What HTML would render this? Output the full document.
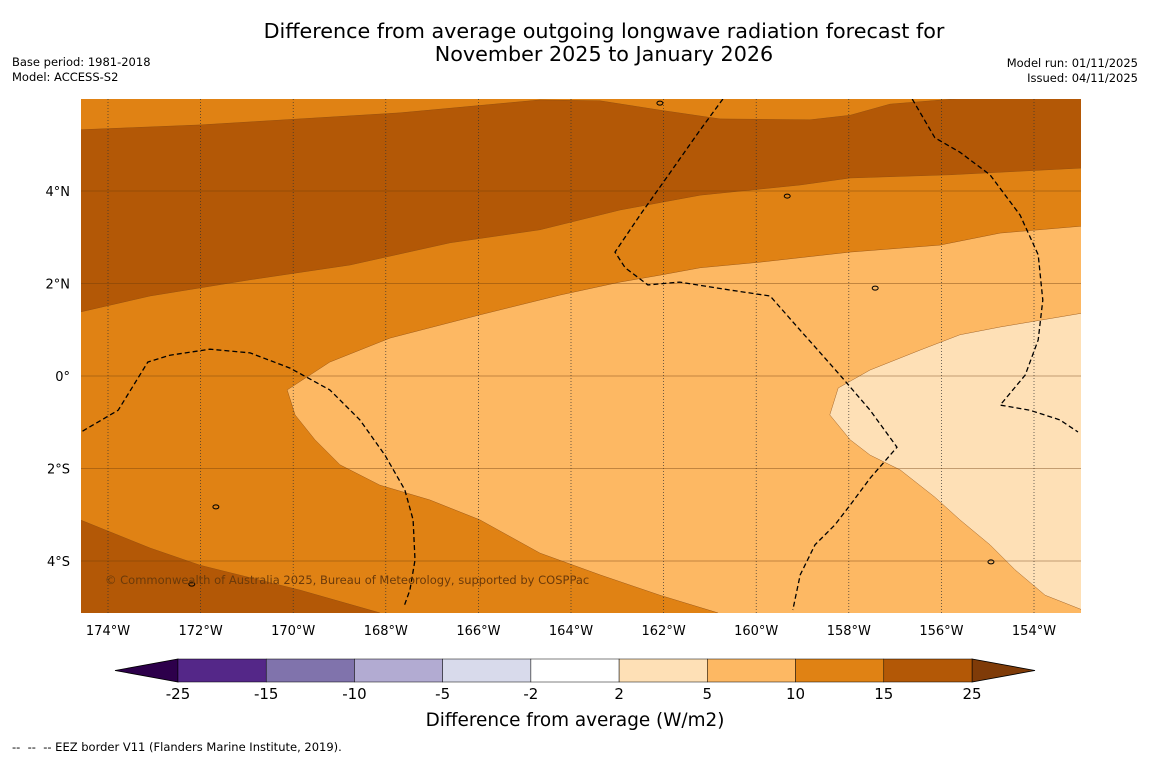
<!DOCTYPE html>
<html><head><meta charset="utf-8"><style>
body{margin:0;background:#fff;width:1150px;height:758px;overflow:hidden;font-family:"Liberation Sans","DejaVu Sans",sans-serif}
svg{position:absolute;left:0;top:0}
</style></head><body>
<svg id="c" width="1150" height="758" xmlns="http://www.w3.org/2000/svg">
<text x="604" y="38" text-anchor="middle" font-size="20.7" fill="#000" font-family="DejaVu Sans, sans-serif">Difference from average outgoing longwave radiation forecast for</text>
<text x="604" y="61" text-anchor="middle" font-size="20.7" fill="#000" font-family="DejaVu Sans, sans-serif">November 2025 to January 2026</text>
<text x="12" y="66" font-size="11.5" font-family="DejaVu Sans, sans-serif">Base period: 1981-2018</text>
<text x="12" y="81" font-size="11.5" font-family="DejaVu Sans, sans-serif">Model: ACCESS-S2</text>
<text x="1138" y="67" text-anchor="end" font-size="11.5" font-family="DejaVu Sans, sans-serif">Model run: 01/11/2025</text>
<text x="1138" y="82" text-anchor="end" font-size="11.5" font-family="DejaVu Sans, sans-serif">Issued: 04/11/2025</text>
<defs><clipPath id="clip"><rect x="81" y="99" width="1000" height="514"/></clipPath></defs>
<g id="map" clip-path="url(#clip)"></g>
<g id="axes"></g>
<g id="cbar"></g>
<text x="575" y="726" text-anchor="middle" font-size="18.4" font-family="DejaVu Sans, sans-serif">Difference from average (W/m2)</text>
<text x="12" y="751" font-size="11.5" font-family="DejaVu Sans, sans-serif" xml:space="preserve" style="white-space:pre">--  --  -- EEZ border V11 (Flanders Marine Institute, 2019).</text>
</svg>
<script>
// ---- data (lon in °E, negative = W; lat in °N) ----
const lonTicks=[-174,-172,-170,-168,-166,-164,-162,-160,-158,-156,-154];
const latTicks=[4,2,0,-2,-4];
const lonLabels=["174°W","172°W","170°W","168°W","166°W","164°W","162°W","160°W","158°W","156°W","154°W"];
const latLabels=["4°N","2°N","0°","2°S","4°S"];
const cbarBounds=[-25,-15,-10,-5,-2,2,5,10,15,25];
const cbarColors=["#542788","#8073ac","#b2abd2","#d8daeb","#ffffff","#fee0b6","#fdb863","#e08214","#b35806"];
const bandTop=[[-174.7,6.1],[-174.7,5.32],[-172.01,5.43],[-167.69,5.69],[-164.67,5.97],[-163.37,5.95],[-162.08,5.75],[-160.78,5.56],[-158.84,5.54],[-157.97,5.64],[-157.11,5.88],[-155.6,6.0],[-155.6,6.1]];
const bandMid=[[-174.7,6.1],[-152.9,6.1],[-152.9,4.5],[-155.81,4.35],[-157.97,4.28],[-159.05,4.13],[-161.21,3.91],[-162.94,3.59],[-164.67,3.16],[-166.61,2.88],[-168.77,2.40],[-170.93,2.08],[-173.09,1.73],[-174.7,1.36]];
const bandBL=[[-174.7,-3.07],[-173.09,-3.72],[-172.01,-4.09],[-169.85,-4.63],[-168.13,-5.12],[-168.1,-5.3],[-174.7,-5.3]];
const region5=[[-170.13,-0.30],[-169.21,0.30],[-167.91,0.82],[-165.97,1.32],[-164.24,1.75],[-162.94,2.03],[-162.08,2.18],[-161.21,2.34],[-159.92,2.46],[-157.97,2.68],[-156.03,2.83],[-154.73,3.09],[-152.95,3.24],[-152.9,-5.3],[-160.83,-5.3],[-160.83,-5.12],[-162.08,-4.74],[-163.37,-4.30],[-164.67,-3.83],[-165.97,-3.11],[-167.05,-2.68],[-168.13,-2.36],[-168.99,-1.92],[-169.53,-1.38],[-169.96,-0.84]];
const region2=[[-158.23,-0.26],[-157.54,0.13],[-156.46,0.56],[-155.60,0.89],[-154.73,1.06],[-152.95,1.36],[-152.95,-5.06],[-153.76,-4.74],[-154.41,-4.19],[-154.95,-3.65],[-155.60,-3.11],[-156.14,-2.62],[-156.89,-2.03],[-157.54,-1.71],[-157.97,-1.38],[-158.41,-0.84]];
const eezA=[[-174.7,-1.28],[-173.78,-0.74],[-173.14,0.30],[-172.66,0.45],[-171.80,0.58],[-170.93,0.50],[-170.07,0.17],[-169.21,-0.30],[-168.56,-0.95],[-168.02,-1.71],[-167.59,-2.46],[-167.41,-3.11],[-167.37,-3.98],[-167.48,-4.63],[-167.61,-4.99]];
const eezB=[[-160.72,5.99],[-161.21,5.32],[-161.97,4.24],[-162.51,3.48],[-163.05,2.68],[-162.83,2.34],[-162.34,1.97],[-161.65,2.03],[-160.57,1.86],[-159.70,1.73],[-159.05,0.99],[-158.19,0.02],[-157.54,-0.74],[-156.96,-1.54],[-157.54,-2.21],[-157.97,-2.79],[-158.30,-3.22],[-158.73,-3.65],[-159.05,-4.30],[-159.21,-5.06]];
const eezC=[[-156.63,5.99],[-156.14,5.15],[-155.60,4.84],[-154.95,4.35],[-154.30,3.48],[-153.91,2.62],[-153.81,1.64],[-153.91,0.78],[-154.19,0.02],[-154.73,-0.63],[-154.09,-0.74],[-153.44,-0.95],[-153.05,-1.21]];
const islands=[[-159.33,3.89],[-157.43,1.90],[-171.67,-2.83],[-172.19,-4.50],[-154.93,-4.02],[-162.08,5.90]];
// ---- axis functions ----
const X0=81,X1=1081,Y0=99,Y1=613;
function xs(lon){return 108+(lon+174)*46.3;}
function ys(lat){return 376-lat*46.25;}
function cx(v){const i=Math.min(cbarBounds.length-2,Math.max(0,cbarBounds.findIndex((b,j)=>v>=b&&v<=cbarBounds[j+1])));const w=(972-178)/9;return 178+(i+(v-cbarBounds[i])/(cbarBounds[i+1]-cbarBounds[i]))*w;}
const NS="http://www.w3.org/2000/svg";
function mk(t,a,p){const e=document.createElementNS(NS,t);for(const k in a)e.setAttribute(k,a[k]);p.appendChild(e);return e;}
function pts(arr){return arr.map(p=>xs(p[0]).toFixed(1)+","+ys(p[1]).toFixed(1)).join(" ");}
const map=document.getElementById('map');
let e;
e=mk('rect',{x:X0,y:Y0,width:1000,height:514,fill:'#e08214'},map);


const polys=[[bandMid,'#b35806','region-15-25-north'],[bandTop,'#e08214','region-10-15-top'],[bandBL,'#b35806','region-15-25-southwest'],[region5,'#fdb863','region-5-10'],[region2,'#fee0b6','region-2-5']];
polys.forEach(p=>{e=mk('polygon',{points:pts(p[0]),fill:p[1],stroke:'#8a4a10','stroke-width':0.4},map);

});
lonTicks.forEach(l=>{e=mk('line',{x1:xs(l),x2:xs(l),y1:Y0,y2:Y1,stroke:'#333','stroke-width':0.7,'stroke-dasharray':'1,2'},map);

});
latTicks.forEach(l=>{e=mk('line',{x1:X0,x2:X1,y1:ys(l),y2:ys(l),stroke:'#6b3a0a','stroke-width':0.6,opacity:0.8},map);

});
[eezA,eezB,eezC].forEach(a=>{e=mk('polyline',{points:pts(a),fill:'none',stroke:'#000','stroke-width':1.3,'stroke-dasharray':'5,3'},map);

});
islands.forEach(p=>{e=mk('ellipse',{cx:xs(p[0]),cy:ys(p[1]),rx:3,ry:2,fill:'none',stroke:'#000','stroke-width':1},map);

});
e=mk('text',{x:105,y:584,'font-size':11.5,fill:'#6b3a0a','font-family':'DejaVu Sans, sans-serif'},map);
e.textContent='© Commonwealth of Australia 2025, Bureau of Meteorology, supported by COSPPac';


const ax=document.getElementById('axes');
lonTicks.forEach((l,i)=>{e=mk('text',{x:xs(l),y:635,'text-anchor':'middle','font-size':13,'font-family':'DejaVu Sans, sans-serif'},ax);e.textContent=lonLabels[i];

});
latTicks.forEach((l,i)=>{e=mk('text',{x:70,y:ys(l)+5,'text-anchor':'end','font-size':13,'font-family':'DejaVu Sans, sans-serif'},ax);e.textContent=latLabels[i];

});
const cb=document.getElementById('cbar');
e=mk('polygon',{points:'115,670.5 178,659 178,682',fill:'#2d004b',stroke:'#000','stroke-width':0.8},cb);


e=mk('polygon',{points:'1035,670.5 972,659 972,682',fill:'#7f3b08',stroke:'#000','stroke-width':0.8},cb);


cbarColors.forEach((c,i)=>{const a=cx(cbarBounds[i]),b=cx(cbarBounds[i+1]);
e=mk('rect',{x:a,y:659,width:b-a,height:23,fill:c,stroke:'#000','stroke-width':0.5},cb);

});
cbarBounds.forEach(v=>{e=mk('text',{x:cx(v),y:699,'text-anchor':'middle','font-size':15,'font-family':'DejaVu Sans, sans-serif'},cb);e.textContent=String(v);

});
</script>
</body></html>
